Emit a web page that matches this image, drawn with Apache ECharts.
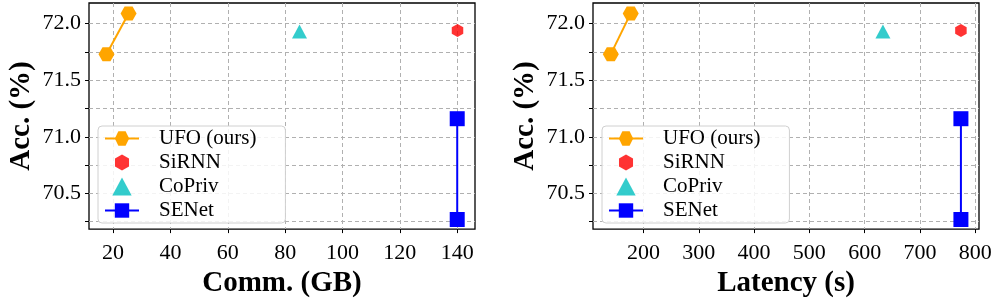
<!DOCTYPE html>
<html><head><meta charset="utf-8">
<script src="https://cdn.jsdelivr.net/npm/echarts@6/dist/echarts.min.js"></script>
<style>html,body{margin:0;padding:0;background:#fff}#c{width:996px;height:303px}</style>
</head><body><div id="c"></div>
<script>
// Data (accuracy %, comm GB, latency s)
const methods = ['UFO (ours)', 'SiRNN', 'CoPriv', 'SENet'];
const ufoComm = [17.7, 25.4];
const ufoLat = [141, 177];
const ufoAcc = [71.73, 72.09];
const sirnnComm = [140.1];
const sirnnLat = [774];
const sirnnAcc = [71.94];
const coprivComm = [85.0];
const coprivLat = [633];
const coprivAcc = [71.93];
const senetComm = [140, 140];
const senetLat = [774, 774];
const senetAcc = [71.16, 70.27];
const yTicks = [70.25, 70.5, 70.75, 71.0, 71.25, 71.5, 71.75, 72.0];
const yLabels = [70.5, 71.0, 71.5, 72.0];
const commTicks = [20, 40, 60, 80, 100, 120, 140];
const latTicks = [200, 300, 400, 500, 600, 700, 800];

const FONT = 'Liberation Serif';
const hexFlat = 'path://M0,0.866 L0.5,0 L1.5,0 L2,0.866 L1.5,1.732 L0.5,1.732 Z';
const hexPointy = 'path://M0.866,0 L1.732,0.5 L1.732,1.5 L0.866,2 L0,1.5 L0,0.5 Z';
const tri = 'path://M0.5,0 L1,0.93 L0,0.93 Z';
// legend icon with a little transparent padding so it keeps the reference size
const hexPointyLeg = 'path://M-0.1,-0.11 L-0.1,-0.11 M1.83,2.11 L1.83,2.11 M0.866,0 L1.732,0.5 L1.732,1.5 L0.866,2 L0,1.5 L0,0.5 Z';
const C = {ufo:'#FFA500', sirnn:'#FF0000', copriv:'#00BFBF', senet:'#0000FF'};

function zip(a,b){return a.map((v,i)=>[v,b[i]]);}

function yAxis(gi){
  return {type:'value', gridIndex:gi, min:70.185, max:72.182,
    name:'Acc. (%)', nameLocation:'middle', nameGap:53,
    nameTextStyle:{fontFamily:FONT, fontWeight:'bold', fontSize:29, color:'#000'},
    axisLine:{show:false},
    axisTick:{show:true, length:4, lineStyle:{color:'#000', width:1}, customValues:yTicks},
    axisLabel:{fontFamily:FONT, fontSize:22, color:'#000', margin:8, customValues:yLabels,
      formatter:v=>Number(v).toFixed(1)},
    splitLine:{show:true, lineStyle:{color:'#b0b0b0', type:[4,3], width:1}}
  };
}
function xAxis(gi, mn, mx, ticks, name){
  return {type:'value', gridIndex:gi, min:mn, max:mx,
    name:name, nameLocation:'middle', nameGap:38,
    nameTextStyle:{fontFamily:FONT, fontWeight:'bold', fontSize:29, color:'#000'},
    axisLine:{show:false},
    axisTick:{show:true, length:4, lineStyle:{color:'#000', width:1}, customValues:ticks},
    axisLabel:{fontFamily:FONT, fontSize:22, color:'#000', margin:13, customValues:ticks},
    splitLine:{show:true, lineStyle:{color:'#b0b0b0', type:[4,3], width:1}}
  };
}
function seriesFor(gi, ufoX, sirnnX, coprivX, senetX){
  return [
    {name:methods[0], type:'line', xAxisIndex:gi, yAxisIndex:gi, data:zip(ufoX, ufoAcc),
      symbol:hexFlat, symbolSize:[16,14], lineStyle:{color:C.ufo, width:2}, itemStyle:{color:C.ufo}, z:3},
    {name:methods[1], type:'scatter', xAxisIndex:gi, yAxisIndex:gi, data:zip(sirnnX, sirnnAcc),
      symbol:hexPointy, symbolSize:[11.5,13], itemStyle:{color:C.sirnn}, z:3},
    {name:methods[2], type:'scatter', xAxisIndex:gi, yAxisIndex:gi, data:zip(coprivX, coprivAcc),
      symbol:tri, symbolSize:[15,14], itemStyle:{color:C.copriv}, z:3},
    {name:methods[3], type:'line', xAxisIndex:gi, yAxisIndex:gi, data:zip(senetX, senetAcc),
      symbol:'rect', symbolSize:15, lineStyle:{color:C.senet, width:2}, itemStyle:{color:C.senet}, z:3}
  ];
}
function legend(left){
  return {left:left, top:126, orient:'vertical',
    data:[{name:methods[0]}, {name:methods[1], icon:hexPointyLeg}, {name:methods[2], icon:tri}, {name:methods[3]}],
    itemWidth:34, itemHeight:18, itemGap:3, symbolKeepAspect:true,
    padding:[2,29,2,6], backgroundColor:'rgba(255,255,255,0.85)',
    borderColor:'#d0d0d0', borderWidth:1, borderRadius:4,
    textStyle:{fontFamily:FONT, fontSize:21, color:'#000', lineHeight:21, padding:[0,0,0,15]},
    selectedMode:false};
}
const chart = echarts.init(document.getElementById('c'), null, {renderer:'canvas'});
chart.setOption({
  animation:false,
  backgroundColor:'#fff',
  textStyle:{fontFamily:FONT},
  grid:[
    {left:89, top:3, width:386, height:230, show:true, borderColor:'#000', borderWidth:1.3, backgroundColor:'transparent'},
    {left:593, top:3, width:386, height:230, show:true, borderColor:'#000', borderWidth:1.3, backgroundColor:'transparent'}
  ],
  xAxis:[xAxis(0, 11.6, 146.2, commTicks, 'Comm. (GB)'), xAxis(1, 108.8, 806.7, latTicks, 'Latency (s)')],
  yAxis:[yAxis(0), yAxis(1)],
  legend:[legend(98), legend(602)],
  series:[].concat(seriesFor(0, ufoComm, sirnnComm, coprivComm, senetComm),
                   seriesFor(1, ufoLat, sirnnLat, coprivLat, senetLat))
});
</script></body></html>
